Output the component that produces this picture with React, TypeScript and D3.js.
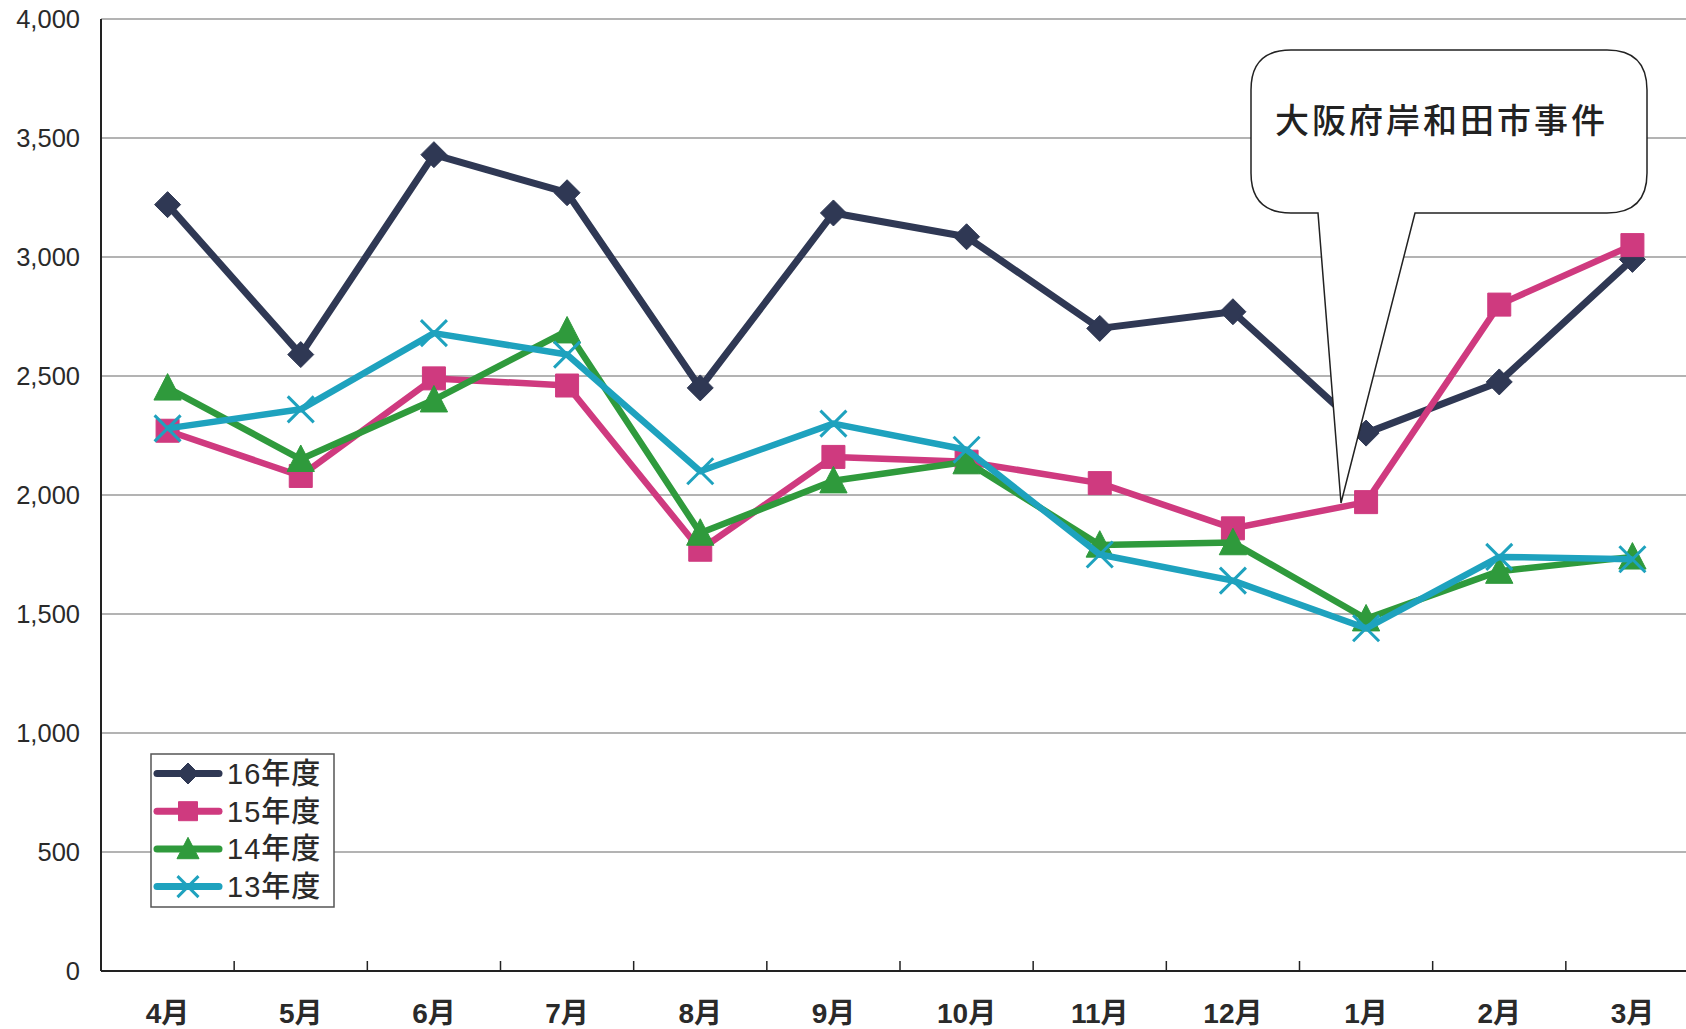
import * as d3 from "d3";

const months = ["4月", "5月", "6月", "7月", "8月", "9月", "10月", "11月", "12月", "1月", "2月", "3月"];
const yTicks = [0, 500, 1000, 1500, 2000, 2500, 3000, 3500, 4000];

const fy16 = [3220, 2590, 3430, 3270, 2450, 3185, 3085, 2700, 2770, 2260, 2475, 2990];
const fy15 = [2270, 2080, 2490, 2460, 1770, 2160, 2140, 2050, 1860, 1970, 2800, 3050];
const fy14 = [2450, 2150, 2400, 2690, 1840, 2060, 2140, 1790, 1800, 1480, 1680, 1740];
const fy13 = [2280, 2360, 2680, 2590, 2100, 2300, 2190, 1750, 1640, 1440, 1740, 1730];

const seriesNames = ["16年度", "15年度", "14年度", "13年度"];
const calloutText = "大阪府岸和田市事件";

type Shape = "diamond" | "square" | "triangle" | "x";

const SERIES = [
  { name: seriesNames[0], values: fy16, color: "#2f3854", shape: "diamond" as Shape },
  { name: seriesNames[1], values: fy15, color: "#cf3a7f", shape: "square" as Shape },
  { name: seriesNames[2], values: fy14, color: "#2f9a3c", shape: "triangle" as Shape },
  { name: seriesNames[3], values: fy13, color: "#1ea2be", shape: "x" as Shape },
];

const W = 1686;
const H = 1029;
const PLOT = { left: 101, right: 1699, top: 19, bottom: 971 };

const x = d3.scaleBand<string>().domain(months).range([PLOT.left, PLOT.right]);
const y = d3.scaleLinear().domain([0, 4000]).range([PLOT.bottom, PLOT.top]);
const cx = (m: string) => (x(m) ?? 0) + x.bandwidth() / 2;

function markerPath(shape: Shape, s: number): string {
  if (shape === "diamond") {
    return `M0,${-s}L${s},0L0,${s}L${-s},0Z`;
  }
  if (shape === "square") {
    return `M${-s},${-s}H${s}V${s}H${-s}Z`;
  }
  if (shape === "triangle") {
    const h = s * 1.1;
    return `M0,${-h}L${s * 1.05},${h * 0.85}L${-s * 1.05},${h * 0.85}Z`;
  }
  return `M${-s},${-s}L${s},${s}M${s},${-s}L${-s},${s}`;
}

function Marker({ shape, color, px, py, s }: { shape: Shape; color: string; px: number; py: number; s: number }) {
  const d = markerPath(shape, s);
  if (shape === "x") {
    return <path d={d} transform={`translate(${px},${py})`} fill="none" stroke={color} strokeWidth={3} />;
  }
  return <path d={d} transform={`translate(${px},${py})`} fill={color} stroke={color} strokeWidth={1} />;
}

// callout balloon: rounded box with a pointer down to 1月
function calloutPath(): string {
  const l = 1251, r = 1647, t = 50, b = 213, rad = 40;
  const p1 = 1318, p2 = 1415, tipX = 1341, tipY = 503;
  const p = d3.path();
  p.moveTo(l + rad, t);
  p.lineTo(r - rad, t);
  p.quadraticCurveTo(r, t, r, t + rad);
  p.lineTo(r, b - rad);
  p.quadraticCurveTo(r, b, r - rad, b);
  p.lineTo(p2, b);
  p.lineTo(tipX, tipY);
  p.lineTo(p1, b);
  p.lineTo(l + rad, b);
  p.quadraticCurveTo(l, b, l, b - rad);
  p.lineTo(l, t + rad);
  p.quadraticCurveTo(l, t, l + rad, t);
  p.closePath();
  return p.toString();
}

export default function App() {
  const line = d3
    .line<number>()
    .x((_, i) => cx(months[i]))
    .y((d) => y(d));

  const boundaries = months.slice(1).map((m) => x(m) ?? 0);
  const legendX = 151, legendY = 754, rowH = 37.7;

  return (
    <svg
      width={W}
      height={H}
      style={{ position: "absolute", left: 0, top: 0, background: "#fff" }}
      fontFamily="'Liberation Sans', Arial, 'Noto Sans CJK JP', sans-serif"
    >
      {/* gridlines */}
      {yTicks.slice(1).map((t) => (
        <line key={t} x1={PLOT.left} x2={W} y1={y(t)} y2={y(t)} stroke="#9a9a9a" strokeWidth={1.5} />
      ))}
      {/* y labels */}
      {yTicks.map((t) => (
        <text key={t} x={80} y={y(t)} dy="0.36em" textAnchor="end" fontSize={25.5} fill="#2a2a2a">
          {d3.format(",")(t)}
        </text>
      ))}
      {/* axes */}
      <line x1={PLOT.left} x2={PLOT.left} y1={PLOT.top} y2={PLOT.bottom} stroke="#222" strokeWidth={2} />
      <line x1={PLOT.left} x2={W} y1={PLOT.bottom} y2={PLOT.bottom} stroke="#222" strokeWidth={2} />
      {boundaries.map((bx, i) => (
        <line key={i} x1={bx} x2={bx} y1={PLOT.bottom} y2={PLOT.bottom - 10} stroke="#222" strokeWidth={1.5} />
      ))}
      {months.map((m) => (
        <text key={m} x={cx(m)} y={1023} textAnchor="middle" fontSize={28} fontWeight="bold" fill="#2a2a2a">
          {m}
        </text>
      ))}

      {/* series */}
      {SERIES.map((s) => (
        <g key={s.name}>
          <path d={line(s.values) ?? ""} fill="none" stroke={s.color} strokeWidth={s.shape === "diamond" ? 7 : 6.5} strokeLinejoin="round" />
          {s.values.map((v, i) => (
            <Marker key={i} shape={s.shape} color={s.color} px={cx(months[i])} py={y(v)} s={s.shape === "square" ? 11.5 : 13} />
          ))}
        </g>
      ))}

      {/* callout */}
      <path d={calloutPath()} fill="#fff" stroke="#222" strokeWidth={1.5} />
      <text x={1275} y={133} fontSize={34} fontWeight={500} letterSpacing={3} fill="#222" fontFamily="'Noto Sans CJK JP', sans-serif">
        {calloutText}
      </text>

      {/* legend */}
      <rect x={legendX} y={legendY} width={183} height={153} fill="#fff" stroke="#555" strokeWidth={1.5} />
      {SERIES.map((s, i) => {
        const ry = legendY + 19.5 + i * rowH;
        return (
          <g key={s.name}>
            <line x1={157} x2={219} y1={ry} y2={ry} stroke={s.color} strokeWidth={7} strokeLinecap="round" />
            <Marker shape={s.shape} color={s.color} px={188} py={ry} s={s.shape === "square" ? 9.5 : 10.5} />
            <text x={227} y={ry} dy="0.36em" fontSize={29} fontWeight={500} fill="#2a2a2a" letterSpacing={1}>
              {s.name}
            </text>
          </g>
        );
      })}
    </svg>
  );
}
